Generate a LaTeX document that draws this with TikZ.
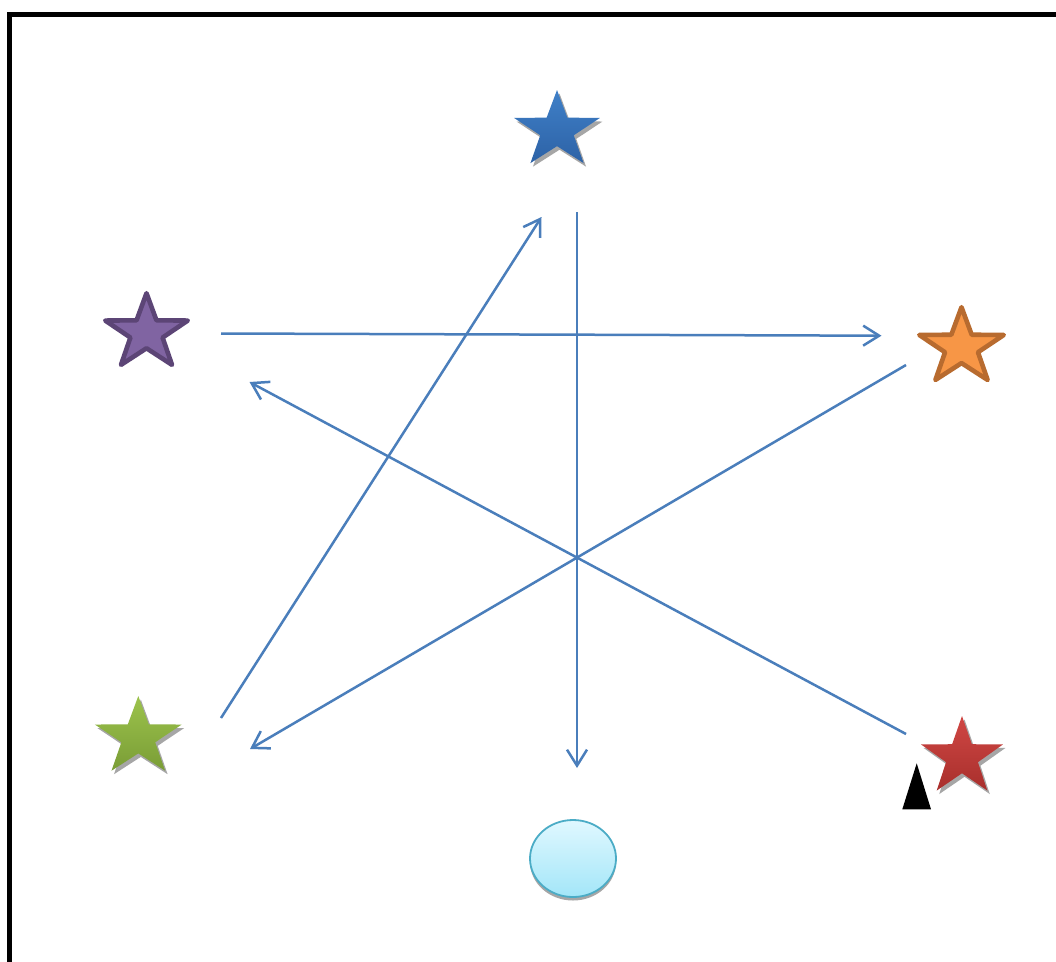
\documentclass[tikz,border=0pt]{standalone}
\usetikzlibrary{arrows.meta,shapes.geometric}
\definecolor{arrowblue}{HTML}{4A7EBB}
\definecolor{bluetop}{HTML}{3F80C8}
\definecolor{bluebot}{HTML}{2D62A6}
\definecolor{greentop}{HTML}{9CC34C}
\definecolor{greenbot}{HTML}{7A9D36}
\definecolor{redtop}{HTML}{D04744}
\definecolor{redbot}{HTML}{A82F2C}
\definecolor{purplefill}{HTML}{8064A2}
\definecolor{purpleline}{HTML}{5C4576}
\definecolor{orangefill}{HTML}{F79646}
\definecolor{orangeline}{HTML}{B86B2F}
\definecolor{shadowgray}{HTML}{A6A6A6}
\definecolor{circtop}{HTML}{E0F8FF}
\definecolor{circbot}{HTML}{A3E6F8}
\definecolor{circline}{HTML}{4BACC6}
\tikzset{
  pics/starshape/.style={code={
    \path[pic actions] (-90:1) -- (-54:0.39) -- (-18:1) -- (18:0.39) -- (54:1)
      -- (90:0.39) -- (126:1) -- (162:0.39) -- (198:1) -- (234:0.39) -- cycle;}},
  link/.style={draw=arrowblue, line width=2.5pt, -{Straight Barb[length=16pt,width=20pt]}},
  shadowstar/.style={fill=shadowgray},
  frameline/.style={line width=5pt, black}
}
\begin{document}
\begin{tikzpicture}[x=1pt,y=-1pt]
\useasboundingbox (0,0) rectangle (1056,961);
\fill[white] (0,0) rectangle (1056,961);
\draw[frameline] (9.5,990) -- (9.5,14.5) -- (1090,14.5);

% shadows
\pic[shadowstar, xscale=45.2, yscale=40.4] (blueshadow) at (559.5,134) {starshape};
\pic[shadowstar, xscale=45.6, yscale=41.3] (greenshadow) at (140.8,740.8) {starshape};
\pic[shadowstar, xscale=43, yscale=41.2] (redshadow) at (964.5,760.7) {starshape};
\fill[shadowgray] (573,862) ellipse [x radius=43, y radius=38.5];

% stars
\pic[top color=bluetop, bottom color=bluebot, xscale=45.2, yscale=40.4] (blue) at (557,130.4) {starshape};
\pic[fill=purplefill, draw=purpleline, line width=4.6pt, line join=round, xscale=43.4, yscale=39.6] (purple) at (146.5,332.8) {starshape};
\pic[fill=orangefill, draw=orangeline, line width=4.6pt, line join=round, xscale=44.4, yscale=40.2] (orange) at (961.5,347.4) {starshape};
\pic[top color=greentop, bottom color=greenbot, xscale=45.6, yscale=41.3] (green) at (138.3,737.3) {starshape};
\pic[top color=redtop, bottom color=redbot, xscale=43, yscale=41.2] (red) at (962,757.2) {starshape};

% circle and triangle
\node[ellipse, minimum width=86pt, minimum height=77pt, inner sep=0pt, draw=circline, line width=1.8pt, top color=circtop, bottom color=circbot] (circ) at (573,858.5) {};
\fill[black] (916.7,763.3) -- (931,809.3) -- (902.3,809.3) -- cycle;

% connector ends
\coordinate (aS) at (577,212);   \coordinate (aE) at (577,768);
\coordinate (bS) at (221,718);   \coordinate (bE) at (541.5,217);
\coordinate (cS) at (221,333.5); \coordinate (cE) at (881.5,335.7);
\coordinate (dS) at (906,365);   \coordinate (dE) at (250,749);
\coordinate (eS) at (906,734);   \coordinate (eE) at (249.5,382);

\draw[link] (aS) -- (aE);
\draw[link] (bS) -- (bE);
\draw[link] (cS) -- (cE);
\draw[link] (dS) -- (dE);
\draw[link] (eS) -- (eE);
\end{tikzpicture}
\end{document}
